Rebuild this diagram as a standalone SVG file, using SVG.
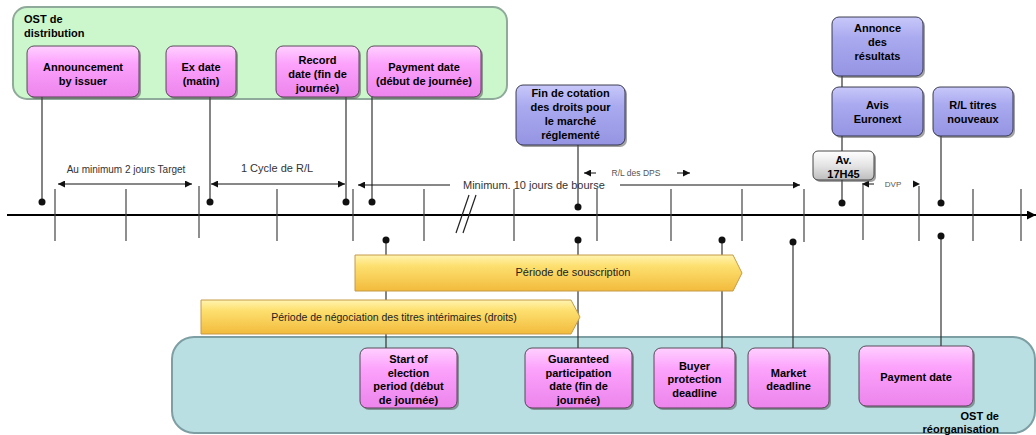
<svg xmlns="http://www.w3.org/2000/svg" width="1036" height="435" viewBox="0 0 1036 435">
<defs>
<linearGradient id="gPink" x1="0" y1="0" x2="0" y2="1"><stop offset="0" stop-color="#ffd0ff"/><stop offset="0.35" stop-color="#fca2fc"/><stop offset="1" stop-color="#ec84ec"/></linearGradient>
<linearGradient id="gBlue" x1="0" y1="0" x2="0" y2="1"><stop offset="0" stop-color="#c8c8fa"/><stop offset="0.35" stop-color="#aaaaf0"/><stop offset="1" stop-color="#9494e2"/></linearGradient>
<linearGradient id="gGray" x1="0" y1="0" x2="0" y2="1"><stop offset="0" stop-color="#ffffff"/><stop offset="0.5" stop-color="#e4e4e4"/><stop offset="1" stop-color="#bdbdbd"/></linearGradient>
<linearGradient id="gYellow" x1="0" y1="0" x2="0" y2="1"><stop offset="0" stop-color="#fff4b0"/><stop offset="0.3" stop-color="#fde070"/><stop offset="1" stop-color="#f2bb3c"/></linearGradient>
<marker id="ah" viewBox="0 0 10 10" refX="10" refY="5" markerWidth="7" markerHeight="7" orient="auto-start-reverse" markerUnits="userSpaceOnUse"><path d="M0,0 L10,5 L0,10 z" fill="#111"/></marker>
<marker id="ahBig" viewBox="0 0 10 10" refX="10" refY="5" markerWidth="9" markerHeight="9" orient="auto" markerUnits="userSpaceOnUse"><path d="M0,0 L10,5 L0,10 z" fill="#000"/></marker>
</defs>
<style>
text{font-family:"Liberation Sans",Arial,sans-serif}
.b{font-weight:bold;font-size:11px;fill:#000;text-anchor:middle}
.bl{font-weight:bold;font-size:11px;fill:#000}
.pink{fill:url(#gPink);stroke:#4a3a4a;stroke-width:0.9}
.blue{fill:url(#gBlue);stroke:#2a2a40;stroke-width:0.9}
.gray{fill:url(#gGray);stroke:#333;stroke-width:0.9}
.sh{fill:#555;opacity:0.55}
.conn{stroke:#333;stroke-width:1.2;fill:none}
.tick{stroke:#444;stroke-width:1.2}
.dot{fill:#111}
.arr{stroke:#111;stroke-width:1;fill:none}
.lbl{font-size:10px;fill:#333;text-anchor:middle}
.lbls{font-size:8.5px;fill:#555;text-anchor:middle}
.bar{fill:url(#gYellow);stroke:#c49a48;stroke-width:1}
.bart{font-size:11px;fill:#222;text-anchor:middle}
</style>

<!-- Region backgrounds -->
<g id="ost-distribution">
<rect x="13" y="7" width="494" height="92" rx="14" fill="#ccf7cc" stroke="#8fa99a" stroke-width="2"/>
<text class="bl" x="24" y="23">OST de</text>
<text class="bl" x="24" y="37">distribution</text>
</g>
<g id="ost-reorganisation">
<rect x="172" y="337" width="863" height="96" rx="22" fill="#b9dfe2" stroke="#7d9ea3" stroke-width="2"/>
<text class="bl" x="999" y="420" text-anchor="end">OST de</text>
<text class="bl" x="999" y="433" text-anchor="end">réorganisation</text>
</g>

<!-- Timeline -->
<g id="timeline">
<line x1="7" y1="215" x2="1036" y2="215" stroke="#000" stroke-width="2" marker-end="url(#ahBig)"/>
<line class="tick" x1="55" y1="189" x2="55" y2="241"/>
<line class="tick" x1="126" y1="189" x2="126" y2="241"/>
<line class="tick" x1="199" y1="186" x2="199" y2="238"/>
<line class="tick" x1="277" y1="189" x2="277" y2="241"/>
<line class="tick" x1="353" y1="189" x2="353" y2="241"/>
<line class="tick" x1="424" y1="189" x2="424" y2="241"/>
<line class="tick" x1="514" y1="189" x2="514" y2="241"/>
<line class="tick" x1="597" y1="189" x2="597" y2="241"/>
<line class="tick" x1="671" y1="189" x2="671" y2="241"/>
<line class="tick" x1="742" y1="189" x2="742" y2="241"/>
<line class="tick" x1="804" y1="189" x2="804" y2="242"/>
<line class="tick" x1="863" y1="185" x2="863" y2="240"/>
<line class="tick" x1="919" y1="186" x2="919" y2="241"/>
<line class="tick" x1="973" y1="189" x2="973" y2="241"/>
<line class="tick" x1="1021" y1="189" x2="1021" y2="241"/>
<line x1="456" y1="233" x2="469" y2="195" stroke="#222" stroke-width="1.2"/>
<line x1="463" y1="233" x2="476" y2="195" stroke="#222" stroke-width="1.2"/>
</g>

<!-- Connectors -->
<g id="connectors">
<line class="conn" x1="42" y1="97" x2="42" y2="202"/>
<line class="conn" x1="210" y1="97" x2="210" y2="202"/>
<line class="conn" x1="346" y1="97" x2="346" y2="202"/>
<line class="conn" x1="372" y1="97" x2="372" y2="202"/>
<line class="conn" x1="578" y1="145" x2="578" y2="207"/>
<line class="conn" x1="842" y1="76" x2="842" y2="87"/>
<line class="conn" x1="842" y1="136" x2="842" y2="151"/>
<line class="conn" x1="842" y1="180" x2="842" y2="203"/>
<line class="conn" x1="941" y1="136" x2="941" y2="203"/>
<line class="conn" x1="386" y1="240" x2="386" y2="348"/>
<line class="conn" x1="578" y1="240" x2="578" y2="348"/>
<line class="conn" x1="722" y1="240" x2="722" y2="348"/>
<line class="conn" x1="793" y1="242" x2="793" y2="348"/>
<line class="conn" x1="941" y1="236" x2="941" y2="346"/>
<circle class="dot" cx="42" cy="202" r="3.5"/>
<circle class="dot" cx="210" cy="202" r="3.5"/>
<circle class="dot" cx="346" cy="202" r="3.5"/>
<circle class="dot" cx="372" cy="202" r="3.5"/>
<circle class="dot" cx="578" cy="207" r="3.5"/>
<circle class="dot" cx="842" cy="203" r="3.5"/>
<circle class="dot" cx="941" cy="203" r="3.5"/>
<circle class="dot" cx="386" cy="240" r="3.5"/>
<circle class="dot" cx="578" cy="240" r="3.5"/>
<circle class="dot" cx="722" cy="240" r="3.5"/>
<circle class="dot" cx="793" cy="242" r="3.5"/>
<circle class="dot" cx="941" cy="236" r="3.5"/>
<!-- span arrows -->
<line class="arr" x1="58" y1="184" x2="192" y2="184" marker-start="url(#ah)" marker-end="url(#ah)"/>
<line class="arr" x1="211" y1="184" x2="345" y2="184" marker-start="url(#ah)" marker-end="url(#ah)"/>
<line class="arr" x1="358" y1="185" x2="450" y2="185" marker-start="url(#ah)"/>
<line class="arr" x1="620" y1="185" x2="800" y2="185" marker-end="url(#ah)"/>
<line class="arr" x1="584" y1="173" x2="596" y2="173" marker-start="url(#ah)"/>
<line class="arr" x1="677" y1="173" x2="690" y2="173" marker-end="url(#ah)"/>
<line class="arr" x1="862" y1="184" x2="874" y2="184" marker-start="url(#ah)"/>
<path d="M913,180.5 L920,184 L913,187.5 z" fill="#111"/>
</g>

<!-- Span labels -->
<g id="span-labels">
<text class="lbl" x="126" y="173">Au minimum 2 jours Target</text>
<text class="lbl" x="277" y="172" style="font-size:11px">1 Cycle de R/L</text>
<text x="463" y="189" style="font-size:11px;fill:#333">Minimum. 10 jours de bourse</text>
<text class="lbls" x="636" y="176">R/L des DPS</text>
<text class="lbls" x="893" y="187" style="font-size:8px">DVP</text>
</g>

<!-- Period bars -->
<g id="periode-souscription">
<path class="bar" d="M355,255 H733 L742,273 L733,291 H355 Z"/>
<text class="bart" x="573" y="276">Période de souscription</text>
</g>
<g id="periode-negociation">
<path class="bar" d="M201,300 H571 L580,317 L571,334 H201 Z"/>
<text class="bart" x="394" y="321" style="font-size:10.5px">Période de négociation des titres intérimaires (droits)</text>
</g>

<!-- Top pink nodes -->
<g id="announcement">
<rect class="sh" x="29" y="48" width="112" height="51" rx="7"/>
<rect class="pink" x="27" y="46" width="112" height="51" rx="7"/>
<text class="b" x="83" y="71">Announcement</text>
<text class="b" x="83" y="85">by issuer</text>
</g>
<g id="ex-date">
<rect class="sh" x="168" y="48" width="70" height="51" rx="7"/>
<rect class="pink" x="166" y="46" width="70" height="51" rx="7"/>
<text class="b" x="201" y="71">Ex date</text>
<text class="b" x="201" y="85">(matin)</text>
</g>
<g id="record-date">
<rect class="sh" x="278" y="48" width="83" height="51" rx="7"/>
<rect class="pink" x="276" y="46" width="83" height="51" rx="7"/>
<text class="b" x="317.5" y="64">Record</text>
<text class="b" x="317.5" y="78">date (fin de</text>
<text class="b" x="317.5" y="92">journée)</text>
</g>
<g id="payment-date-top">
<rect class="sh" x="369" y="48" width="114" height="51" rx="7"/>
<rect class="pink" x="367" y="46" width="114" height="51" rx="7"/>
<text class="b" x="424" y="71">Payment date</text>
<text class="b" x="424" y="85">(début de journée)</text>
</g>

<!-- Blue nodes -->
<g id="fin-cotation">
<rect class="sh" x="518" y="87" width="109" height="60" rx="7"/>
<rect class="blue" x="516" y="85" width="109" height="60" rx="7"/>
<text class="b" x="570.5" y="97">Fin de cotation</text>
<text class="b" x="570.5" y="111">des droits pour</text>
<text class="b" x="570.5" y="125">le marché</text>
<text class="b" x="570.5" y="139">réglementé</text>
</g>
<g id="annonce-resultats">
<rect class="sh" x="834" y="19" width="91" height="59" rx="7"/>
<rect class="blue" x="832" y="17" width="91" height="59" rx="7"/>
<text class="b" x="877.5" y="32">Annonce</text>
<text class="b" x="877.5" y="46">des</text>
<text class="b" x="877.5" y="60">résultats</text>
</g>
<g id="avis-euronext">
<rect class="sh" x="834" y="89" width="91" height="49" rx="7"/>
<rect class="blue" x="832" y="87" width="91" height="49" rx="7"/>
<text class="b" x="877.5" y="109">Avis</text>
<text class="b" x="877.5" y="123">Euronext</text>
</g>
<g id="rl-titres-nouveaux">
<rect class="sh" x="935" y="89" width="80" height="49" rx="7"/>
<rect class="blue" x="933" y="87" width="80" height="49" rx="7"/>
<text class="b" x="973" y="109">R/L titres</text>
<text class="b" x="973" y="123">nouveaux</text>
</g>
<g id="av-17h45">
<rect class="sh" x="815" y="153" width="61" height="29" rx="5"/>
<rect class="gray" x="813" y="151" width="61" height="29" rx="5"/>
<text class="b" x="843.5" y="164">Av.</text>
<text class="b" x="843.5" y="178">17H45</text>
</g>

<!-- Bottom pink nodes -->
<g id="start-election">
<rect class="sh" x="362" y="350" width="97" height="60" rx="7"/>
<rect class="pink" x="360" y="348" width="97" height="60" rx="7"/>
<text class="b" x="408.5" y="363">Start of</text>
<text class="b" x="408.5" y="377">election</text>
<text class="b" x="408.5" y="390">period (début</text>
<text class="b" x="408.5" y="404">de journée)</text>
</g>
<g id="guaranteed-participation">
<rect class="sh" x="527" y="350" width="107" height="60" rx="7"/>
<rect class="pink" x="525" y="348" width="107" height="60" rx="7"/>
<text class="b" x="578.5" y="363">Guaranteed</text>
<text class="b" x="578.5" y="377">participation</text>
<text class="b" x="578.5" y="390">date (fin de</text>
<text class="b" x="578.5" y="404">journée)</text>
</g>
<g id="buyer-protection">
<rect class="sh" x="656" y="350" width="81" height="60" rx="7"/>
<rect class="pink" x="654" y="348" width="81" height="60" rx="7"/>
<text class="b" x="694.5" y="370">Buyer</text>
<text class="b" x="694.5" y="383">protection</text>
<text class="b" x="694.5" y="397">deadline</text>
</g>
<g id="market-deadline">
<rect class="sh" x="750" y="350" width="81" height="60" rx="7"/>
<rect class="pink" x="748" y="348" width="81" height="60" rx="7"/>
<text class="b" x="788.5" y="377">Market</text>
<text class="b" x="788.5" y="390">deadline</text>
</g>
<g id="payment-date-bottom">
<rect class="sh" x="861" y="348" width="114" height="60" rx="7"/>
<rect class="pink" x="859" y="346" width="114" height="60" rx="7"/>
<text class="b" x="916" y="381">Payment date</text>
</g>
</svg>
